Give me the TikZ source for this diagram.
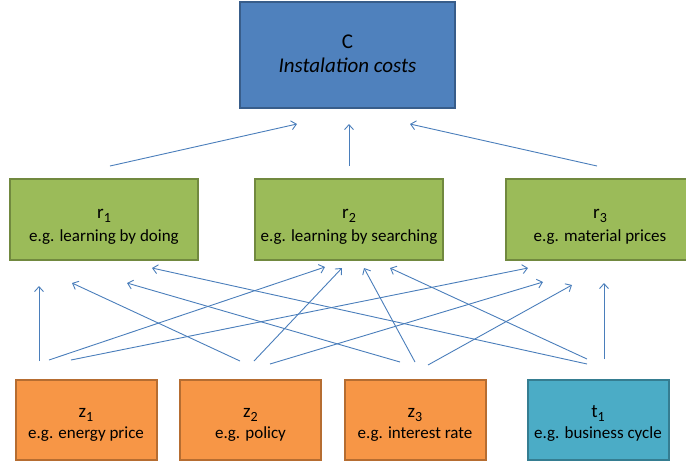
\documentclass[tikz,border=0pt]{standalone}
\usepackage{fontspec}
\setmainfont{Carlito}
\usetikzlibrary{arrows.meta}

\definecolor{cblue}{HTML}{4F81BD}
\definecolor{cblueline}{HTML}{385D8A}
\definecolor{rgreen}{HTML}{9BBB59}
\definecolor{rgreenline}{HTML}{71893F}
\definecolor{zorange}{HTML}{F79646}
\definecolor{zorangeline}{HTML}{B66D31}
\definecolor{tteal}{HTML}{4BACC6}
\definecolor{ttealline}{HTML}{357D91}
\definecolor{linkblue}{HTML}{4A7EBB}

% variable name with lowered index
\newcommand{\var}[2]{{\fontsize{19}{19}\selectfont #1\raisebox{-4pt}{\fontsize{14}{14}\selectfont #2}}}
% two centred lines, moved down by #1
\newcommand{\twoline}[3]{\raisebox{-#1}[0pt][0pt]{\begin{tabular}{@{}c@{}}#2\\#3\end{tabular}}}

\begin{document}
\begin{tikzpicture}
[x=1pt,y=-1pt,>={Straight Barb[length=5pt,width=9pt]},
box/.style = {draw, line width=2pt, inner sep=0pt},
costbox/.style = {box, fill=cblue, draw=cblueline, minimum width=215, minimum height=106,
  font=\fontsize{21}{24}\selectfont},
driverbox/.style = {box, fill=rgreen, draw=rgreenline, minimum width=188, minimum height=81,
  font=\fontsize{17}{23}\selectfont},
factorbox/.style = {box, fill=zorange, draw=zorangeline, minimum width=141, minimum height=80,
  font=\fontsize{17}{21}\selectfont},
timebox/.style = {factorbox, fill=tteal, draw=ttealline},
link/.style = {->, draw=linkblue, line width=0.9pt},]

\useasboundingbox (0,0) rectangle (686,464);

\node (C) at (347.5,55)[costbox] {\twoline{6pt}{C}{\textit{Instalation costs}}};

\node (r1) at (104,219.5)[driverbox] {\twoline{10pt}{\var{r}{1}}{e.g. learning by doing}};
\node (r2) at (349,219.5)[driverbox] {\twoline{10pt}{\var{r}{2}}{e.g. learning by searching}};
\node (r3) at (600,219.5)[driverbox] {\twoline{10pt}{\var{r}{3}}{e.g. material prices}};

\node (z1) at (86,420)[factorbox] {\twoline{8pt}{\var{z}{1}}{e.g. energy price}};
\node (z2) at (250.5,420)[factorbox] {\twoline{8pt}{\var{z}{2}}{e.g. policy}};
\node (z3) at (415,420)[factorbox] {\twoline{8pt}{\var{z}{3}}{e.g. interest rate}};
\node (t1) at (598,420)[timebox] {\twoline{8pt}{\var{t}{1}}{e.g. business cycle}};

% r -> C
\draw [link]([shift={(6,-12)}]r1.north)--([shift={(-50.5,15)}]C.south);
\draw [link]([shift={(0,-12)}]r2.north)--([shift={(1.5,15)}]C.south);
\draw [link]([shift={(-3,-12)}]r3.north)--([shift={(62.5,15)}]C.south);

% z1 -> r
\draw [link]([shift={(-47,-18)}]z1.north)--([shift={(-65,25)}]r1.south);
\draw [link]([shift={(-37,-19)}]z1.north)--([shift={(-24,6)}]r2.south);
\draw [link]([shift={(-15,-19)}]z1.north)--([shift={(-72,7)}]r3.south);

% z2 -> r
\draw [link]([shift={(-10.5,-18)}]z2.north)--([shift={(-32,22)}]r1.south);
\draw [link]([shift={(3.5,-18)}]z2.north)--([shift={(-7,7)}]r2.south);
\draw [link]([shift={(19.5,-15)}]z2.north)--([shift={(-57,21)}]r3.south);

% z3 -> r
\draw [link]([shift={(-15,-17)}]z3.north)--([shift={(23,22)}]r1.south);
\draw [link]([shift={(0,-17)}]z3.north)--([shift={(15,7)}]r2.south);
\draw [link]([shift={(13,-14)}]z3.north)--([shift={(-28,24)}]r3.south);

% t1 -> r
\draw [link]([shift={(-11,-15)}]t1.north)--([shift={(48,7)}]r1.south);
\draw [link]([shift={(-11,-20)}]t1.north)--([shift={(41,7)}]r2.south);
\draw [link]([shift={(6,-20)}]t1.north)--([shift={(4,22)}]r3.south);
%\draw [link](t1)--(C);

\end{tikzpicture}
\end{document}
